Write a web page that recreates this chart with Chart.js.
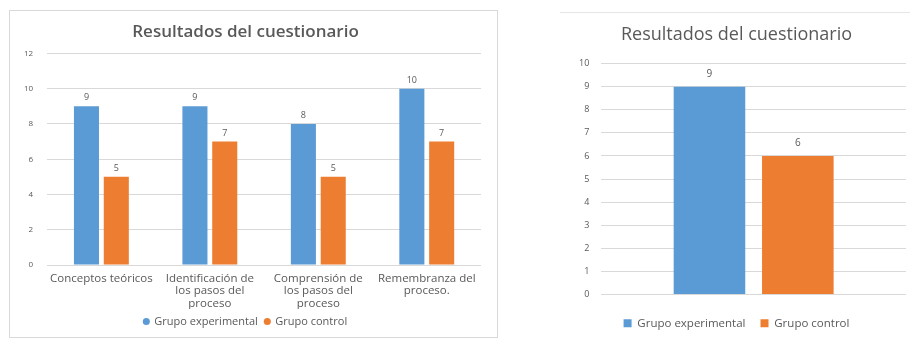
<!DOCTYPE html>
<html>
<head>
<meta charset="utf-8">
<script src="https://cdn.jsdelivr.net/npm/chart.js@4"></script>
<style>
  body { margin: 0; background: #fff; width: 912px; height: 339px; position: relative; overflow: hidden; }
  .box { position: absolute; background: #fff; }
  #leftBox { left: 9px; top: 10px; width: 487px; height: 326px; border: 1px solid #d9d9d9; }
  #rightBox { left: 560px; top: 12px; width: 350px; height: 327px; border-top: 1px solid #e6e6e6; }
</style>
</head>
<body>
<div class="box" id="leftBox"><canvas id="porAspecto"></canvas></div>
<div class="box" id="rightBox"><canvas id="global"></canvas></div>
<script>
const aspectos = [
  "Conceptos teóricos",
  ["Identificación de", "los pasos del", "proceso"],
  ["Comprensión de", "los pasos del", "proceso"],
  ["Remembranza del", "proceso."]
];
const experimental = [9, 9, 8, 10];
const control = [5, 7, 5, 7];

const globalExperimental = [9];
const globalControl = [6];

const BLUE = "#5b9bd5";
const ORANGE = "#ed7d31";
const TEXT = "#595959";
const GRID = "#d9d9d9";
const FONT = "'Open Sans', Lato, sans-serif";

Chart.defaults.font.family = FONT;
Chart.defaults.color = TEXT;
Chart.defaults.animation = false;

// draws the value above each bar
const valueLabels = {
  id: "valueLabels",
  afterDatasetsDraw(chart, args, opts) {
    const ctx = chart.ctx;
    ctx.save();
    ctx.fillStyle = TEXT;
    ctx.font = `${opts.size || 10}px ${FONT}`;
    ctx.textAlign = "center";
    ctx.textBaseline = "bottom";
    chart.data.datasets.forEach((ds, i) => {
      chart.getDatasetMeta(i).data.forEach((bar, j) => {
        ctx.fillText(ds.data[j], bar.x, bar.y - (opts.offset || 6));
      });
    });
    ctx.restore();
  }
};

new Chart(document.getElementById("porAspecto"), {
  type: "bar",
  data: {
    labels: aspectos,
    datasets: [
      { label: "Grupo experimental", data: experimental, backgroundColor: BLUE, categoryPercentage: 0.55, barPercentage: 0.84 },
      { label: "Grupo control", data: control, backgroundColor: ORANGE, categoryPercentage: 0.55, barPercentage: 0.84 }
    ]
  },
  options: {
    responsive: true,
    maintainAspectRatio: false,
    layout: { padding: { left: 0, right: 16, top: 4, bottom: 0 } },
    scales: {
      x: {
        grid: { display: false },
        border: { display: false },
        ticks: { font: { size: 11.5, lineHeight: 1.1 }, color: TEXT, maxRotation: 0, autoSkip: false, padding: -1 }
      },
      y: {
        min: 0,
        max: 12,
        ticks: { stepSize: 2, font: { size: 8 }, color: TEXT, padding: 14 },
        grid: { color: GRID, drawTicks: false },
        border: { display: false }
      }
    },
    plugins: {
      title: {
        display: true,
        text: "Resultados del cuestionario",
        color: TEXT,
        font: { size: 17, weight: "600" },
        padding: { top: 7, bottom: 11 }
      },
      legend: {
        position: "bottom",
        labels: { usePointStyle: true, pointStyle: "circle", boxWidth: 5, boxHeight: 5, font: { size: 11 }, color: TEXT, padding: 7 }
      },
      tooltip: { enabled: false },
      valueLabels: { size: 9, offset: 4 }
    }
  },
  plugins: [valueLabels]
});

new Chart(document.getElementById("global"), {
  type: "bar",
  data: {
    labels: [""],
    datasets: [
      { label: "Grupo experimental", data: globalExperimental, backgroundColor: BLUE, categoryPercentage: 0.58, barPercentage: 0.81 },
      { label: "Grupo control", data: globalControl, backgroundColor: ORANGE, categoryPercentage: 0.58, barPercentage: 0.81 }
    ]
  },
  options: {
    responsive: true,
    maintainAspectRatio: false,
    layout: { padding: { left: 7, right: 4, top: 0, bottom: 1 } },
    scales: {
      x: {
        grid: { display: false },
        border: { display: false },
        ticks: { display: false }
      },
      y: {
        min: 0,
        max: 10,
        ticks: { stepSize: 1, font: { size: 9 }, color: TEXT, padding: 12 },
        grid: { color: GRID, drawTicks: false },
        border: { display: false }
      }
    },
    plugins: {
      title: {
        display: true,
        text: "Resultados del cuestionario",
        color: TEXT,
        font: { size: 18, weight: "normal" },
        padding: { top: 11, bottom: 18 }
      },
      legend: {
        position: "bottom",
        labels: { boxWidth: 8, boxHeight: 8, font: { size: 11.5 }, color: TEXT, padding: 15 }
      },
      tooltip: { enabled: false },
      valueLabels: { size: 10, offset: 8 }
    }
  },
  plugins: [valueLabels]
});
</script>
</body>
</html>
